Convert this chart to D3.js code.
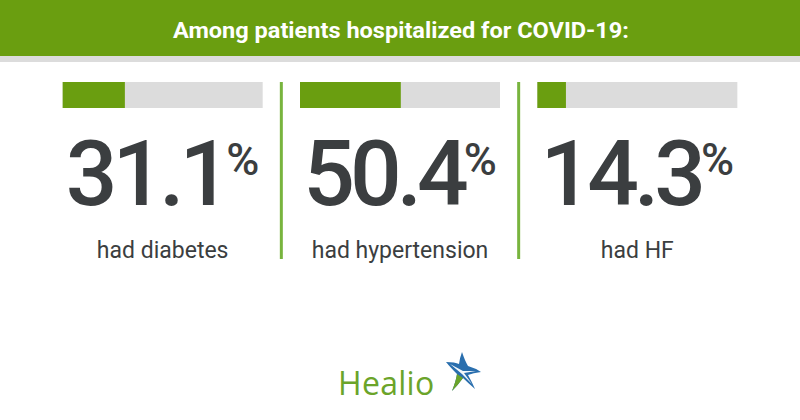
<!DOCTYPE html>
<html>
<head>
<meta charset="utf-8">
<script src="https://cdn.jsdelivr.net/npm/d3@7"></script>
<style>
html,body{margin:0;padding:0;background:#fff;}
svg{display:block;}
</style>
</head>
<body>
<svg id="chart" width="800" height="420"></svg>
<script>
const title = "Among patients hospitalized for COVID-19:";
const categories = ["had diabetes", "had hypertension", "had HF"];
const values = [31.1, 50.4, 14.3];
const domainMax = [100];
const brand = "Healio";

const W = 800, H = 420;
const svg = d3.select("#chart");
const green = "#6a9e10";
const darkText = "#3b3e40";

// header
svg.append("rect").attr("x",0).attr("y",0).attr("width",W).attr("height",56).attr("fill",green);
svg.append("rect").attr("x",0).attr("y",56).attr("width",W).attr("height",6).attr("fill","#dcdcdc");
svg.append("text").attr("x",401).attr("y",38).attr("text-anchor","middle")
  .attr("fill","#fff").attr("font-family","Roboto, sans-serif").attr("font-weight",700)
  .attr("font-size",22.5).attr("textLength",456).attr("lengthAdjust","spacingAndGlyphs")
  .text(title);

// panels
const panel = d3.scaleBand().domain(categories).range([44, 756]).paddingInner(0);
const barW = 200;
const x = d3.scaleLinear().domain([0, domainMax[0]]).range([0, barW]);

const g = svg.selectAll("g.panel").data(categories.map((c,i)=>({c, v: values[i]})))
  .enter().append("g").attr("class","panel")
  .attr("transform", d => `translate(${panel(d.c) + panel.bandwidth()/2},0)`);

g.append("rect").attr("x",-barW/2).attr("y",82).attr("width",barW).attr("height",26).attr("fill","#dcdcdc");
g.append("rect").attr("x",-barW/2).attr("y",82).attr("width",d=>x(d.v)).attr("height",26).attr("fill",green);

const num = g.append("text").attr("x",0).attr("y",205).attr("text-anchor","middle")
  .attr("fill",darkText).attr("font-family","Roboto, sans-serif").attr("font-weight",500)
  .attr("font-size",91).attr("letter-spacing",-5);
num.append("tspan").text(d => d.v.toFixed(1));
num.append("tspan").attr("font-size",45).attr("dy",-30).attr("letter-spacing",0).text("%");

g.append("text").attr("x",0).attr("y",258).attr("text-anchor","middle")
  .attr("fill",darkText).attr("font-family","Roboto, sans-serif").attr("font-weight",400)
  .attr("font-size",23).text(d=>d.c);

// dividers
const dividerX = categories.slice(1).map(c => panel(c));
svg.selectAll("line.div").data(dividerX).enter().append("line")
  .attr("x1",d=>d).attr("x2",d=>d)
  .attr("y1",82).attr("y2",259).attr("stroke","#78b43e").attr("stroke-width",3);

// logo
const logo = svg.append("g");
logo.append("text").attr("x",338).attr("y",395).attr("fill","#6ba42a")
  .attr("font-family","'Open Sans', sans-serif").attr("font-size",32).attr("font-weight",500)
  .attr("letter-spacing",0.3).text(brand);
const star = logo.append("g").attr("transform","translate(463,371)");
star.append("path").attr("d","M-17,-9 Q-8,-9 -4,-7 Q-3,-14 -1,-19 Q2,-10 5,-5 Q12,-3 18,1 Q10,2 5,4 Q9,11 12,18 Q5,12 0,7 Q-5,14 -11,20 Q-7,10 -6,3 Q-13,-4 -17,-9 Z").attr("fill","#2a6fae");
star.append("path").attr("d","M-11,20 Q-7,10 -6,3 L0,7 Q-5,14 -11,20 Z").attr("fill","#6ba42a");
star.append("path").attr("d","M-13,-7 L0,0 L13,0 L1,2 L9,13 L-1,3 Z").attr("fill","#fff").attr("opacity",0.95);
</script>
</body>
</html>
